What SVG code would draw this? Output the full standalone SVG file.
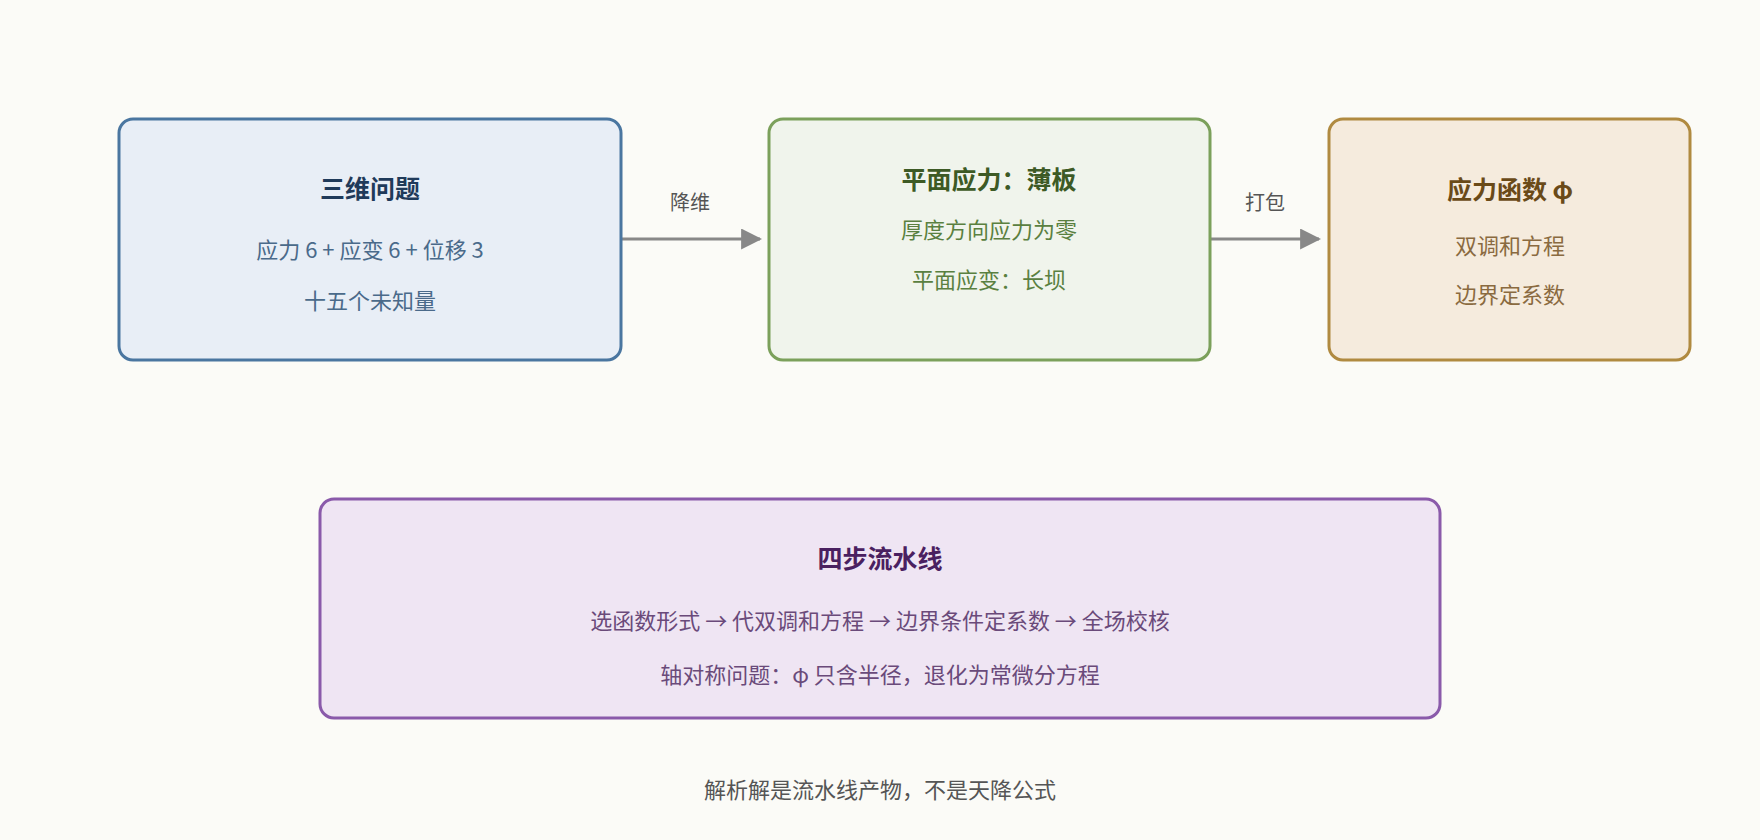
<svg xmlns="http://www.w3.org/2000/svg" width="1760" height="840" viewBox="0 0 1760 840">
<defs>
<marker id="ah" markerWidth="12" markerHeight="12" refX="11" refY="6" orient="auto" markerUnits="userSpaceOnUse"><path d="M0,0 L12,6 L0,12 Z" fill="#888"/></marker>
<marker id="a" viewBox="0 0 10 10" refX="9" refY="5" markerWidth="7" markerHeight="7" orient="auto"><path d="M0,0 L10,5 L0,10 Z" fill="#888"/></marker>
</defs>
<style>
text{font-family:"Noto Sans CJK SC","Noto Sans",sans-serif;text-anchor:middle}
.t{font-size:25px;font-weight:bold}
.b{font-size:22px}
.l{font-size:20px;fill:#555}
.box{stroke-width:3}
</style>
<rect width="1760" height="840" fill="#fbfbf7"/>
<g id="connectors">
<line x1="621" y1="239" x2="760" y2="239" stroke="#888" stroke-width="3" marker-end="url(#a)"/>
<text class="l" x="690" y="210">降维</text>
<line x1="1210" y1="239" x2="1319" y2="239" stroke="#888" stroke-width="3" marker-end="url(#a)"/>
<text class="l" x="1265" y="210">打包</text>
</g>
<g id="n1">
<rect class="box" x="119" y="119" width="502" height="241" rx="14" fill="#e8eef6" stroke="#4a76a0"/>
<text class="t" x="370" y="198" fill="#1f3a5a">三维问题</text>
<text class="b" x="370" y="258" fill="#4a6a8a">应力 6 + 应变 6 + 位移 3</text>
<text class="b" x="370" y="309" fill="#4a6a8a">十五个未知量</text>
</g>
<g id="n2">
<rect class="box" x="769" y="119" width="441" height="241" rx="14" fill="#f0f4ec" stroke="#7ba05b"/>
<text class="t" x="989" y="189" fill="#3d5a25">平面应力：薄板</text>
<text class="b" x="989" y="238" fill="#5a8040">厚度方向应力为零</text>
<text class="b" x="989" y="288" fill="#5a8040">平面应变：长坝</text>
</g>
<g id="n3">
<rect class="box" x="1329" y="119" width="361" height="241" rx="14" fill="#f5ebdd" stroke="#b08a40"/>
<text class="t" x="1510" y="199" fill="#6a4a18">应力函数 φ</text>
<text class="b" x="1510" y="254" fill="#8a6a40">双调和方程</text>
<text class="b" x="1510" y="303" fill="#8a6a40">边界定系数</text>
</g>
<g id="n4">
<rect class="box" x="320" y="499" width="1120" height="219" rx="14" fill="#efe5f3" stroke="#8a5aaa"/>
<text class="t" x="880" y="568" fill="#4a2060">四步流水线</text>
<text class="b" x="880" y="629" fill="#6a4a7a">选函数形式 → 代双调和方程 → 边界条件定系数 → 全场校核</text>
<text class="b" x="880" y="683" fill="#6a4a7a">轴对称问题：φ 只含半径，退化为常微分方程</text>
</g>
<text class="b" x="880" y="798" fill="#555">解析解是流水线产物，不是天降公式</text>
</svg>
